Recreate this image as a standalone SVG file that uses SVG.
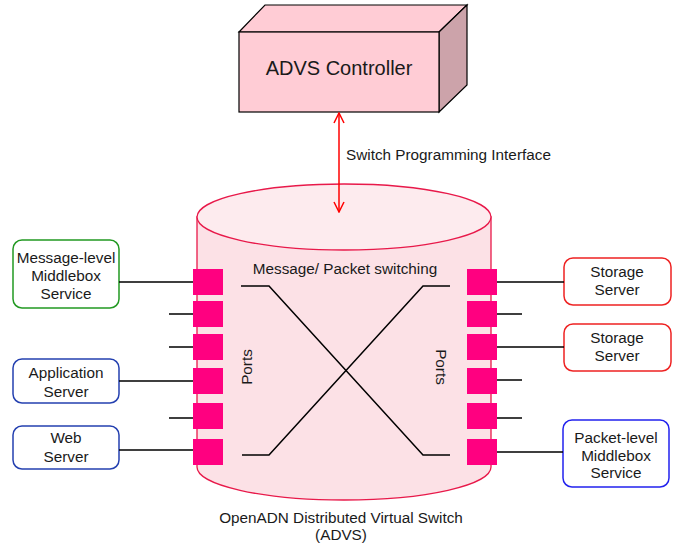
<svg xmlns="http://www.w3.org/2000/svg" width="678" height="545" viewBox="0 0 678 545">
<defs>
<style>
text{font-family:"Liberation Sans",Arial,sans-serif;font-size:15.3px;fill:#1a1a1a}
.c{text-anchor:middle}
.port{fill:#FF0080}
.wire{stroke:#000;stroke-width:1.5;fill:none}
.node{fill:#fff;stroke-width:1.5}
</style>
<marker id="ah" viewBox="0 0 12 12" refX="11" refY="6" markerWidth="12" markerHeight="12" markerUnits="userSpaceOnUse" orient="auto-start-reverse">
<path d="M1,1 L11,6 L1,11" fill="none" stroke="#FF0000" stroke-width="1.5"/>
</marker>
</defs>
<rect width="678" height="545" fill="#fff"/>

<g id="controller">
<polygon points="239,32 265,5 467,5 439,32" fill="#FFCCD5" stroke="#000" stroke-width="1.2"/>
<polygon points="439,32 467,5 467,85 439,112" fill="#CCA3AA" stroke="#000" stroke-width="1.2"/>
<rect x="239" y="32" width="200" height="80" fill="#FFCCD5" stroke="#000" stroke-width="1.2"/>
<text class="c" x="339" y="75" style="font-size:20px">ADVS Controller</text>
</g>

<g id="switch">
<path d="M197,217 L197,467 A147,33 0 0 0 491,467 L491,217 Z" fill="#FCE1E6" stroke="#E8194A" stroke-width="1.3"/>
<ellipse cx="344" cy="217" rx="147" ry="33" fill="#FDEBEE" stroke="#E8194A" stroke-width="1.3"/>
<text class="c" x="345" y="274">Message/ Packet switching</text>
<text class="c" transform="translate(252,367) rotate(-90)">Ports</text>
<text class="c" transform="translate(436,367) rotate(90)">Ports</text>
<text class="c" x="341" y="523">OpenADN Distributed Virtual Switch</text>
<text class="c" x="341" y="540">(ADVS)</text>
</g>

<g id="ports-left">
<rect class="port" x="193" y="269" width="30" height="26"/>
<rect class="port" x="193" y="301" width="30" height="26"/>
<rect class="port" x="193" y="334" width="30" height="26"/>
<rect class="port" x="193" y="368" width="30" height="26"/>
<rect class="port" x="193" y="403" width="30" height="26"/>
<rect class="port" x="193" y="439" width="30" height="26"/>
</g>
<g id="ports-right">
<rect class="port" x="467" y="269" width="30" height="26"/>
<rect class="port" x="467" y="301" width="30" height="26"/>
<rect class="port" x="467" y="334" width="30" height="26"/>
<rect class="port" x="467" y="368" width="30" height="26"/>
<rect class="port" x="467" y="403" width="30" height="26"/>
<rect class="port" x="467" y="439" width="30" height="26"/>
</g>

<g id="msg-middlebox">
<rect class="node" x="13" y="240" width="106" height="68" rx="9" stroke="#229922"/>
<text class="c" x="66" y="263">Message-level</text>
<text class="c" x="66" y="281">Middlebox</text>
<text class="c" x="66" y="299">Service</text>
</g>
<g id="app-server">
<rect class="node" x="13" y="359" width="106" height="44" rx="9" stroke="#2440B0"/>
<text class="c" x="66" y="378">Application</text>
<text class="c" x="66" y="397">Server</text>
</g>
<g id="web-server">
<rect class="node" x="13" y="426" width="106" height="43" rx="9" stroke="#2440B0"/>
<text class="c" x="66" y="443">Web</text>
<text class="c" x="66" y="462">Server</text>
</g>
<g id="storage1">
<rect class="node" x="564" y="258" width="107" height="47" rx="9" stroke="#EE2222"/>
<text class="c" x="617" y="277">Storage</text>
<text class="c" x="617" y="295">Server</text>
</g>
<g id="storage2">
<rect class="node" x="564" y="324" width="107" height="47" rx="9" stroke="#EE2222"/>
<text class="c" x="617" y="343">Storage</text>
<text class="c" x="617" y="361">Server</text>
</g>
<g id="pkt-middlebox">
<rect class="node" x="563" y="420" width="106" height="67" rx="9" stroke="#2222EE"/>
<text class="c" x="616" y="443">Packet-level</text>
<text class="c" x="616" y="461">Middlebox</text>
<text class="c" x="616" y="478">Service</text>
</g>

<g id="connectors">
<line x1="339" y1="113" x2="339" y2="212" stroke="#FF0000" stroke-width="1.5" marker-start="url(#ah)" marker-end="url(#ah)"/>
<text x="346" y="160">Switch Programming Interface</text>
<path class="wire" d="M119,282 H193 M169,314 H193 M169,347 H193 M119,381 H193 M169,418 H193 M119,450 H193"/>
<path class="wire" d="M497,282 H564 M497,314 H522 M497,347 H564 M497,380 H522 M497,418 H522 M497,452 H563"/>
<path class="wire" d="M241,286 H269 L423,455 H450"/>
<path class="wire" d="M242,455 H269 L423,286 H450"/>
</g>
</svg>
